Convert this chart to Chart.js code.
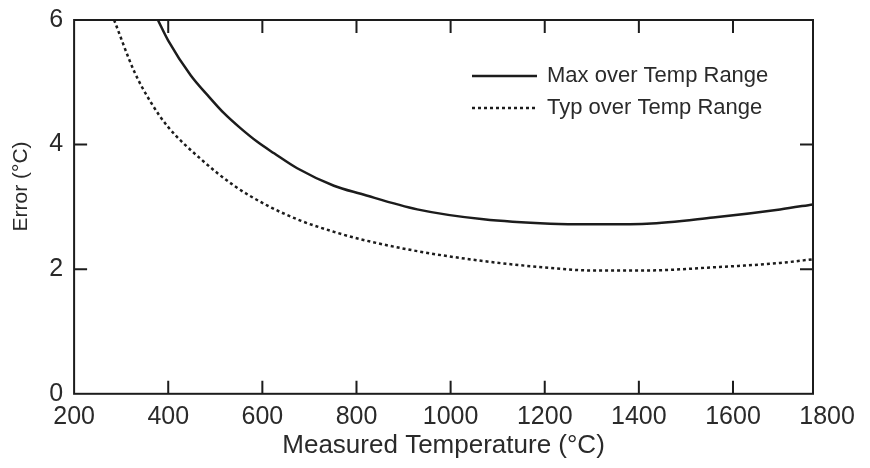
<!DOCTYPE html>
<html>
<head>
<meta charset="utf-8">
<script src="https://cdn.jsdelivr.net/npm/chart.js@4"></script>
<style>
  html, body { margin: 0; padding: 0; background: #fff; }
  #box { width: 870px; height: 468px; }
</style>
</head>
<body>
<div id="box"><canvas id="graficoErro"></canvas></div>
<script>
// valores
var tempMax = [378, 400, 448, 484, 519, 554, 590, 625, 674, 752, 809, 929, 1070, 1212, 1297, 1417, 1558, 1700, 1770]
var erroMax = [6.0, 5.67, 5.11, 4.79, 4.50, 4.26, 4.04, 3.86, 3.62, 3.34, 3.21, 2.96, 2.80, 2.73, 2.72, 2.73, 2.83, 2.96, 3.04]

var tempTyp = [285, 328, 363, 400, 469, 540, 611, 681, 752, 809, 929, 1070, 1212, 1297, 1417, 1558, 1700, 1770]
var erroTyp = [6.0, 5.17, 4.68, 4.28, 3.77, 3.34, 3.02, 2.78, 2.60, 2.48, 2.29, 2.13, 2.02, 1.98, 1.98, 2.03, 2.10, 2.16]

var ticksX = [200, 400, 600, 800, 1000, 1200, 1400, 1600, 1800]
var ticksY = [0, 2, 4, 6]

var legendas = ['Max over Temp Range', 'Typ over Temp Range']

var corLinha = '#1c1c1c'
var corTexto = '#2a2a2a'
var fonte = "'Liberation Sans', Arial, sans-serif"

function pontos(xs, ys){
    return xs.map(function(x, i){ return {x: x, y: ys[i]} })
}

// moldura + marcas para dentro + legenda
var molduraPlugin = {
    id: 'moldura',
    afterDraw: function(chart){
        var ctx = chart.ctx
        var a = chart.chartArea
        var sx = chart.scales.x
        var sy = chart.scales.y
        var tam = 13
        ctx.save()
        ctx.strokeStyle = corLinha
        ctx.lineWidth = 2
        ctx.strokeRect(a.left, a.top, a.right - a.left, a.bottom - a.top)
        ctx.beginPath()
        ticksX.forEach(function(v){
            var px = sx.getPixelForValue(v)
            if(px <= a.left + 1 || px >= a.right - 1) return
            ctx.moveTo(px, a.bottom); ctx.lineTo(px, a.bottom - tam)
            ctx.moveTo(px, a.top); ctx.lineTo(px, a.top + tam)
        })
        ticksY.forEach(function(v){
            var py = sy.getPixelForValue(v)
            if(py <= a.top + 1 || py >= a.bottom - 1) return
            ctx.moveTo(a.left, py); ctx.lineTo(a.left + tam, py)
            ctx.moveTo(a.right, py); ctx.lineTo(a.right - tam, py)
        })
        ctx.stroke()

        // legenda
        var lx = 472, lx2 = 537, ly = 76, passo = 32
        chart.data.datasets.forEach(function(ds, i){
            var y = ly + i * passo
            ctx.beginPath()
            ctx.lineWidth = ds.borderWidth
            ctx.setLineDash(ds.borderDash || [])
            ctx.moveTo(lx, y); ctx.lineTo(lx2, y)
            ctx.stroke()
            ctx.setLineDash([])
            ctx.fillStyle = corTexto
            ctx.font = '22px ' + fonte
            ctx.textBaseline = 'middle'
            ctx.fillText(ds.label, lx2 + 10, y)
        })
        ctx.restore()
    }
}

var config = {
    type: 'line',
    data: {
        datasets: [{
            label: legendas[0],
            data: pontos(tempMax, erroMax),
            borderColor: corLinha,
            borderWidth: 2.5,
            pointRadius: 0,
            cubicInterpolationMode: 'monotone',
            fill: false
        }, {
            label: legendas[1],
            data: pontos(tempTyp, erroTyp),
            borderColor: corLinha,
            borderWidth: 2.5,
            borderDash: [3, 3],
            pointRadius: 0,
            cubicInterpolationMode: 'monotone',
            fill: false
        }]
    },
    options: {
        responsive: true,
        maintainAspectRatio: false,
        animation: false,
        layout: {
            padding: {left: 0, right: 57, top: 20, bottom: 4}
        },
        plugins: {
            legend: {display: false},
            tooltip: {enabled: false}
        },
        scales: {
            x: {
                type: 'linear',
                min: 200,
                max: 1770,
                grid: {display: false, drawTicks: false, tickLength: 0},
                border: {display: false},
                afterBuildTicks: function(scale){
                    scale.ticks = ticksX.map(function(v){ return {value: v} })
                },
                ticks: {
                    autoSkip: false,
                    maxRotation: 0,
                    padding: 8,
                    color: corTexto,
                    font: {family: fonte, size: 25},
                    callback: function(v){ return String(v) }
                },
                title: {
                    display: true,
                    text: 'Measured Temperature (°C)',
                    color: corTexto,
                    padding: {top: -10, bottom: 3},
                    font: {family: fonte, size: 26}
                }
            },
            y: {
                min: 0,
                max: 6,
                grid: {display: false, drawTicks: false, tickLength: 0},
                border: {display: false},
                afterBuildTicks: function(scale){
                    scale.ticks = ticksY.map(function(v){ return {value: v} })
                },
                ticks: {
                    padding: 11,
                    color: corTexto,
                    font: {family: fonte, size: 25, lineHeight: 0.6},
                    callback: function(v){ return String(v) }
                },
                title: {
                    display: true,
                    // espaços no início sobem o texto, como na figura
                    text: '       Error (°C)',
                    color: corTexto,
                    padding: {top: 9, bottom: 4},
                    font: {family: fonte, size: 21}
                }
            }
        }
    },
    plugins: [molduraPlugin]
}

var myChart = new Chart(document.getElementById('graficoErro'), config)
</script>
</body>
</html>
